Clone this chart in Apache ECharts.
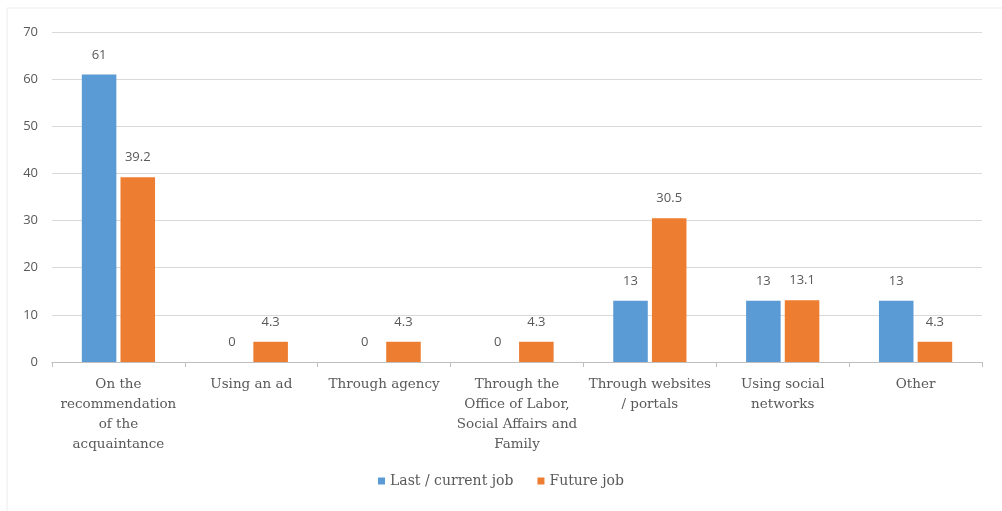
<!DOCTYPE html>
<html>
<head>
<meta charset="utf-8">
<script src="https://cdn.jsdelivr.net/npm/echarts@6/dist/echarts.min.js"></script>
<style>
  html, body { margin: 0; padding: 0; background: #fff; }
  #chart { width: 1002px; height: 511px; }
</style>
</head>
<body>
<div id="chart"></div>
<script>
var categories = [
  "On the\nrecommendation\nof the\nacquaintance",
  "Using an ad",
  "Through agency",
  "Through the\nOffice of Labor,\nSocial Affairs and\nFamily",
  "Through websites\n/ portals",
  "Using social\nnetworks",
  "Other"
];
var lastJob = [61, 0, 0, 0, 13, 13, 13];
var futureJob = [39.2, 4.3, 4.3, 4.3, 30.5, 13.1, 4.3];
var seriesNames = ["Last / current job", "Future job"];

var chart = echarts.init(document.getElementById("chart"));

var numFont = "'Open Sans', 'Liberation Sans', sans-serif";
var txtFont = "'DejaVu Serif', 'Liberation Serif', serif";

var labelStyle = {
  show: true,
  position: "top",
  distance: 13,
  color: "#595959",
  fontSize: 13,
  fontFamily: numFont
};

var option = {
  backgroundColor: "#fff",
  animation: false,
  graphic: [
    {
      // faint frame round the picture
      type: "rect",
      shape: { x: 7, y: 8, width: 1100, height: 600 },
      style: { fill: "none", stroke: "#ececec", lineWidth: 1 },
      silent: true
    }
  ],
  grid: { left: 52, right: 20, top: 32, bottom: 149 },
  legend: {
    data: seriesNames,
    bottom: 18,
    left: "center",
    itemWidth: 7,
    itemHeight: 7,
    itemGap: 24,
    icon: "rect",
    textStyle: { color: "#595959", fontSize: 14, fontFamily: txtFont }
  },
  xAxis: {
    type: "category",
    data: categories,
    axisLine: { lineStyle: { color: "#bfbfbf" } },
    axisTick: { show: true, length: 5, lineStyle: { color: "#bfbfbf" } },
    axisLabel: {
      color: "#595959",
      fontSize: 13.5,
      lineHeight: 20,
      fontFamily: txtFont,
      margin: 12,
      interval: 0
    }
  },
  yAxis: {
    type: "value",
    min: 0,
    max: 70,
    interval: 10,
    axisLine: { show: false },
    axisTick: { show: false },
    splitLine: { lineStyle: { color: "#d9d9d9" } },
    axisLabel: { color: "#595959", fontSize: 13, fontFamily: numFont, margin: 14 }
  },
  series: [
    {
      name: seriesNames[0],
      type: "bar",
      data: lastJob,
      barWidth: "26%",
      barGap: "12%",
      itemStyle: { color: "#5b9bd5" },
      label: labelStyle
    },
    {
      name: seriesNames[1],
      type: "bar",
      data: futureJob,
      barWidth: "26%",
      itemStyle: { color: "#ed7d31" },
      label: labelStyle
    }
  ]
};

chart.setOption(option);
</script>
</body>
</html>
